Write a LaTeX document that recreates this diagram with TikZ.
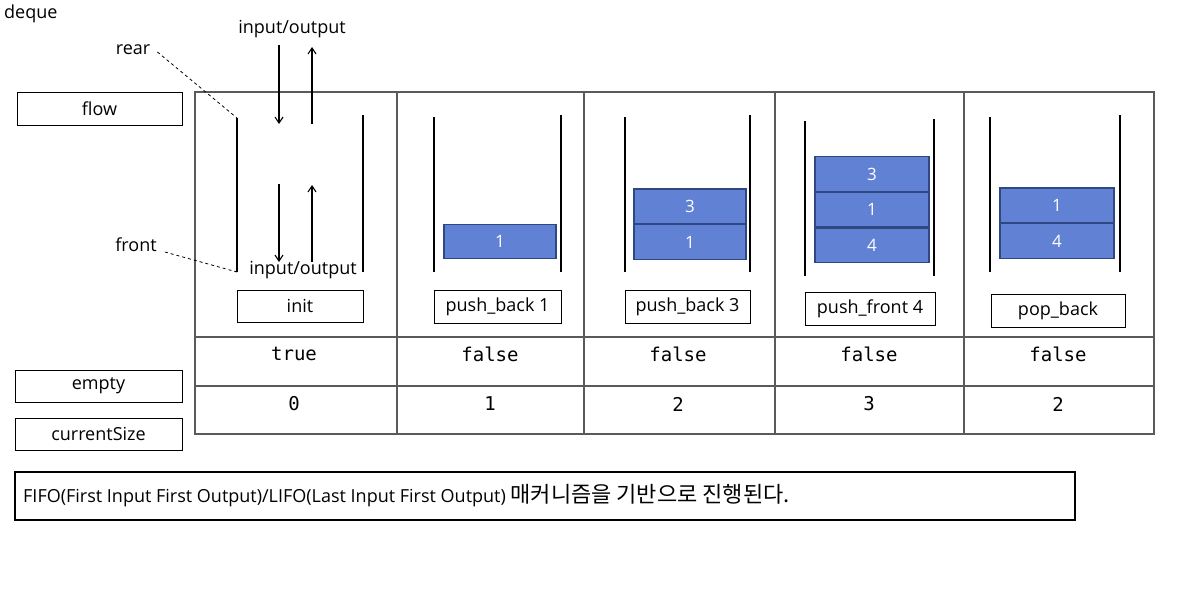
\documentclass[tikz,border=0pt]{standalone}
\usepackage{fontspec}
\setmainfont{Open Sans}
\setmonofont{DejaVu Sans Mono}
\newfontfamily\krfont{Noto Sans CJK KR}
\usetikzlibrary{arrows.meta,positioning}
\definecolor{blockblue}{RGB}{97,129,213}
\definecolor{blockedge}{RGB}{47,72,130}
\definecolor{gridgray}{RGB}{90,90,90}

\begin{document}
\begin{tikzpicture}[x=1pt,y=-1pt,
    tag/.style={rectangle, draw, line width=0.9pt, inner sep=0pt, font=\fontsize{18}{21}\selectfont},
    block/.style={rectangle, draw=blockedge, fill=blockblue, line width=1.2pt, text=white,
                  minimum width=112pt, minimum height=34.5pt, inner sep=0pt, font=\fontsize{17}{20}\selectfont},
    wall/.style={line width=1.1pt},
    cellval/.style={font=\ttfamily\fontsize{19}{22}\selectfont},
    plain/.style={inner sep=0pt, font=\fontsize{18}{21}\selectfont},
    io/.style={-{Straight Barb[length=6pt,width=8pt]}, line width=1.1pt}
]
    \useasboundingbox (0,0) rectangle (1204,603);
    \node[plain, anchor=west] (title) at (4,14) {deque};

    % row labels
    \node[tag, minimum width=165pt, minimum height=33pt] (flow) at (99.5,108.5) {flow};
    \node[tag, minimum width=167pt, minimum height=32pt] (empty) at (98.5,386) {empty};
    \node[tag, minimum width=167pt, minimum height=32pt] (cursize) at (98.5,434) {currentSize};

    % table
    \draw[gridgray, line width=1.3pt] (195,92) rectangle (1154,434);
    \draw[gridgray, line width=1.3pt] (195,337) -- (1154,337) (195,386) -- (1154,386);
    \foreach \x in {397,584,775,964}
        \draw[gridgray, line width=1.3pt] (\x,92) -- (\x,434);

    % init
    \draw[wall] (237,118) coordinate (lwall) -- (237,272) coordinate (lwallb);
    \draw[wall] (363,115) -- (363,272);
    \node[plain] (iotop) at (292,29) {input/output};
    \node[plain] (iobot) at (303,270) {input/output};
    \coordinate (a1) at (279,45);  \coordinate (a2) at (279,124);
    \coordinate (a3) at (312,124); \coordinate (a4) at (312,47);
    \coordinate (a5) at (279,184); \coordinate (a6) at (279,262);
    \coordinate (a7) at (312,262); \coordinate (a8) at (312,185);
    \draw[io] (a1) -- (a2);
    \draw[io] (a3) -- (a4);
    \draw[io] (a5) -- (a6);
    \draw[io] (a7) -- (a8);
    \node[plain] (rear) at (133,50) {rear};
    \node[plain] (front) at (136,245) {front};
    \draw[dashed, line width=0.8pt] (rear.east) ++(7,2) -- (lwall);
    \draw[dashed, line width=0.8pt] (front.east) ++(8,7) -- (lwallb);
    \node[tag, minimum width=126pt, minimum height=32pt] (init) at (300,306) {init};

    % push_back 1
    \draw[wall] (434,117) -- (434,272);
    \draw[wall] (561,115) -- (561,272);
    \node[block] (b11) at (500,241.5) {1};
    \node[tag, minimum width=127pt, minimum height=33pt] (pb1) at (497.5,306.5) {push\_back 1};

    % push_back 3
    \draw[wall] (625,117) -- (625,272);
    \draw[wall] (750,115) -- (750,272);
    \node[block] (b21) at (690,242) {1};
    \node[block, above=0pt of b21] (b22) {3};
    \node[tag, minimum width=125pt, minimum height=33pt] (pb3) at (687.5,306.5) {push\_back 3};

    % push_front 4
    \draw[wall] (805,121) -- (805,276);
    \draw[wall] (934,119) -- (934,276);
    \node[block, minimum width=114pt] (b31) at (872,245.5) {4};
    \node[block, minimum width=114pt, above=0pt of b31] (b32) {1};
    \node[block, minimum width=114pt, above=0pt of b32] (b33) {3};
    \node[tag, minimum width=130pt, minimum height=33pt] (pf4) at (870,308.5) {push\_front 4};

    % pop_back
    \draw[wall] (990,117) -- (990,272);
    \draw[wall] (1120,115) -- (1120,272);
    \node[block, minimum width=114pt] (b41) at (1057,241) {4};
    \node[block, minimum width=114pt, above=0pt of b41] (b42) {1};
    \node[tag, minimum width=134pt, minimum height=33pt] (popb) at (1058,310.5) {pop\_back};

    % empty / currentSize values
    \node[cellval] (e1) at (294,354) {true};
    \node[cellval] (e2) at (490,354) {false};
    \node[cellval] (e3) at (678,354) {false};
    \node[cellval] (e4) at (869,354) {false};
    \node[cellval] (e5) at (1058,354) {false};
    \node[cellval] (s1) at (294,404) {0};
    \node[cellval] (s2) at (490,404) {1};
    \node[cellval] (s3) at (678,404) {2};
    \node[cellval] (s4) at (869,404) {3};
    \node[cellval] (s5) at (1058,404) {2};

    % note
    \node[tag, line width=1.3pt, minimum width=1060pt, minimum height=48pt] (note) at (545,496) {};
    \node[plain, anchor=west] (notetext) at (23,496) {FIFO(First Input First Output)/LIFO(Last Input First Output) {\krfont\fontsize{22}{25}\selectfont 매커니즘을 기반으로 진행된다.}};
\end{tikzpicture}
\end{document}
